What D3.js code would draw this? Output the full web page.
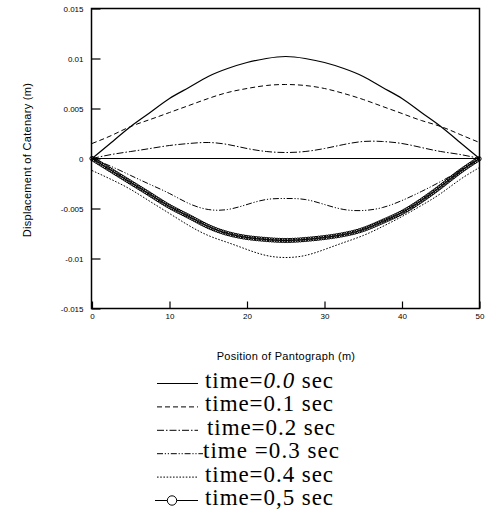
<!DOCTYPE html>
<html>
<head>
<meta charset="utf-8">
<script src="https://cdn.jsdelivr.net/npm/d3@7/dist/d3.min.js"></script>
<style>
  html, body { margin: 0; padding: 0; background: #fff; }
  svg { display: block; }
</style>
</head>
<body>
<svg id="chart" width="486" height="522"></svg>
<script>
// ---------------- data ----------------
const positions = [0, 2.5, 5, 7.5, 10, 12.5, 15, 17.5, 20, 22.5, 25, 27.5, 30, 32.5, 35, 37.5, 40, 42.5, 45, 47.5, 50];

const t00 = [0, 0.0016, 0.0032, 0.0046, 0.0060, 0.0071, 0.0082, 0.0090, 0.0096, 0.0100, 0.0102, 0.0100, 0.0096, 0.0090, 0.0082, 0.0071, 0.0060, 0.0046, 0.0032, 0.0016, 0];
const t01 = [0.0015, 0.0023, 0.0032, 0.0039, 0.0046, 0.0053, 0.0060, 0.0066, 0.0070, 0.0073, 0.0074, 0.0073, 0.0070, 0.0065, 0.0059, 0.0052, 0.0045, 0.0038, 0.0032, 0.0024, 0.0016];
const t02 = [0, 0.0004, 0.0007, 0.0010, 0.0013, 0.0015, 0.0016, 0.0014, 0.0010, 0.0007, 0.0006, 0.0007, 0.0010, 0.0014, 0.0017, 0.0017, 0.0015, 0.0011, 0.0007, 0.0004, 0];
const t03 = [0, -0.0008, -0.0017, -0.0026, -0.0035, -0.0045, -0.0051, -0.0051, -0.0046, -0.0041, -0.0040, -0.0041, -0.0046, -0.0051, -0.0052, -0.0049, -0.0042, -0.0033, -0.0023, -0.0012, 0];
const t04 = [-0.0012, -0.0021, -0.0031, -0.0043, -0.0055, -0.0067, -0.0077, -0.0084, -0.0091, -0.0097, -0.0099, -0.0097, -0.0091, -0.0084, -0.0077, -0.0068, -0.0058, -0.0047, -0.0035, -0.0021, -0.0009];
const t05 = [0, -0.0012, -0.0024, -0.0036, -0.0048, -0.0058, -0.0068, -0.0075, -0.0079, -0.0081, -0.0082, -0.0081, -0.0079, -0.0076, -0.0071, -0.0063, -0.0054, -0.0042, -0.0028, -0.0013, 0];

const seriesNames = ["time=0.0 sec", "time=0.1 sec", "time=0.2 sec", "time =0.3 sec", "time=0.4 sec", "time=0,5 sec"];
const seriesValues = [t00, t01, t02, t03, t04, t05];

const xTicks = [0, 10, 20, 30, 40, 50];
const yTicks = [-0.015, -0.01, -0.005, 0, 0.005, 0.01, 0.015];
const yTickLabels = ["-0.015", "-0.01", "-0.005", "0", "0.005", "0.01", "0.015"];

const xTitle = "Position of Pantograph (m)";
const yTitle = "Displacement of Catenary (m)";

// ---------------- drawing ----------------
const svg = d3.select("#chart");
const mLeft = 91.5, mRight = 479.5, mTop = 8.5, mBottom = 308.5;

const x = d3.scaleLinear().domain([0, 50]).range([mLeft + 0.5, mRight]);
const y = d3.scaleLinear().domain([-0.015, 0.015]).range([mBottom, mTop]);

const tickFont = "'Liberation Sans', Arial, sans-serif";

// y axis (ticks pointing inward)
const gy = svg.append("g").attr("transform", `translate(${mLeft},0)`)
  .call(d3.axisLeft(y).tickValues(yTicks)
    .tickFormat((d, i) => yTickLabels[i])
    .tickSizeInner(-9).tickSizeOuter(0).tickPadding(8));
gy.select(".domain").remove();
gy.selectAll("line").attr("stroke", "#000").attr("stroke-width", 1.2);
gy.selectAll("text").attr("font-family", tickFont).attr("font-size", 8).attr("fill", "#000");

// x axis (ticks pointing inward)
const gx = svg.append("g").attr("transform", `translate(0,${mBottom})`)
  .call(d3.axisBottom(x).tickValues(xTicks)
    .tickSizeInner(-7).tickSizeOuter(0).tickPadding(5));
gx.select(".domain").remove();
gx.selectAll("line").attr("stroke", "#000").attr("stroke-width", 1.2);
gx.selectAll("text").attr("font-family", tickFont).attr("font-size", 8).attr("fill", "#000");

// frame
svg.append("rect")
  .attr("x", mLeft).attr("y", mTop)
  .attr("width", mRight - mLeft).attr("height", mBottom - mTop)
  .attr("fill", "none").attr("stroke", "#000").attr("stroke-width", 1.5);

// zero line
svg.append("line")
  .attr("x1", x(0)).attr("x2", x(50))
  .attr("y1", y(0)).attr("y2", y(0))
  .attr("stroke", "#000").attr("stroke-width", 1);

// axis titles
svg.append("text")
  .attr("x", 286).attr("y", 360)
  .attr("text-anchor", "middle")
  .attr("font-family", tickFont).attr("font-size", 11).attr("fill", "#000")
  .attr("letter-spacing", 0.3)
  .text(xTitle);

svg.append("text")
  .attr("transform", "translate(31,160) rotate(-90)")
  .attr("text-anchor", "middle")
  .attr("font-family", tickFont).attr("font-size", 11).attr("fill", "#000")
  .attr("letter-spacing", 0.3)
  .text(yTitle);

// line styles
const styles = [
  { dash: null, width: 1.2 },
  { dash: "5,3", width: 1 },
  { dash: "7,2,1.5,2", width: 1 },
  { dash: "6,1.8,1.2,1.8,1.2,1.8", width: 1 },
  { dash: "1.6,1.6", width: 1 },
  { dash: null, width: 1, circles: true }
];

const line = d3.line()
  .x((d, i) => x(positions[i]))
  .y(d => y(d))
  .curve(d3.curveNatural);

const plot = svg.append("g");
seriesValues.forEach((vals, k) => {
  const st = styles[k];
  const p = plot.append("path")
    .attr("d", line(vals))
    .attr("fill", "none")
    .attr("stroke", "#000")
    .attr("stroke-width", st.width)
    .attr("stroke-dasharray", st.dash);
  if (st.circles) {
    // marker chain along the series path (line style)
    const node = p.node();
    const L = node.getTotalLength();
    const g = plot.append("g");
    for (let s = 0; s <= L; s += 2.6) {
      const pt = node.getPointAtLength(s);
      g.append("circle").attr("cx", pt.x).attr("cy", pt.y).attr("r", 2.1)
        .attr("fill", "none").attr("stroke", "#000").attr("stroke-width", 1);
    }
  }
});

// legend
const legBase0 = 388, legStep = 23.4;
const leg = svg.append("g");
seriesNames.forEach((name, k) => {
  const st = styles[k];
  const base = legBase0 + k * legStep;
  const cy = base - 4.5;
  leg.append("line")
    .attr("x1", k === 5 ? 155 : 157).attr("x2", k === 3 ? 203 : 198)
    .attr("y1", cy).attr("y2", cy)
    .attr("stroke", "#000").attr("stroke-width", st.width)
    .attr("stroke-dasharray", st.dash);
  if (st.circles) {
    leg.append("circle").attr("cx", 172).attr("cy", cy).attr("r", 4.7)
      .attr("fill", "#fff").attr("stroke", "#000").attr("stroke-width", 1);
  }
  const t = leg.append("text")
    .attr("x", k === 2 ? 207 : (k === 3 ? 203 : 205))
    .attr("y", base)
    .attr("font-family", "'Liberation Serif', 'Times New Roman', serif")
    .attr("font-size", 23)
    .attr("fill", "#000")
    .attr("textLength", k === 3 ? 136 : 128)
    .attr("lengthAdjust", "spacing");
  const m = name.match(/^(time ?=)([0-9.,]+)( sec)$/);
  t.append("tspan").text(m[1]);
  t.append("tspan").attr("font-style", k === 0 ? "italic" : null).text(m[2]);
  t.append("tspan").text(m[3]);
});
</script>
</body>
</html>
